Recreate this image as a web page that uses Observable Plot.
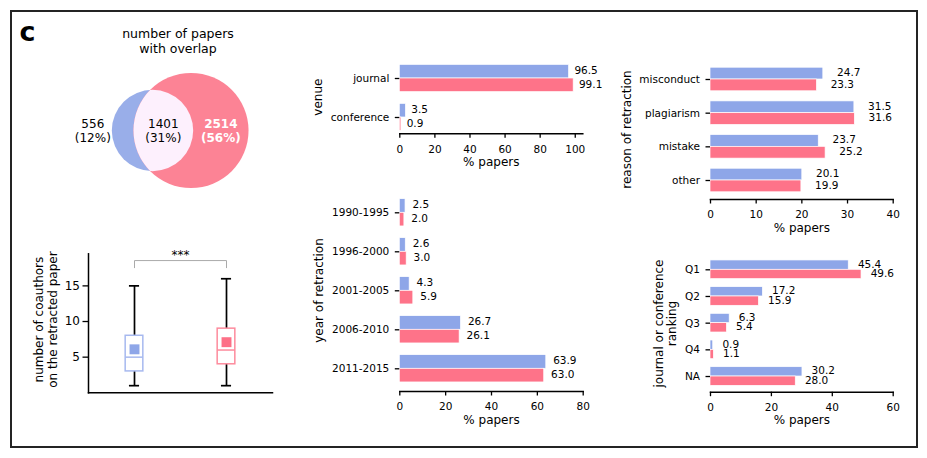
<!DOCTYPE html>
<html><head><meta charset="utf-8">
<script src="https://cdn.jsdelivr.net/npm/d3@7"></script>
<script src="https://cdn.jsdelivr.net/npm/@observablehq/plot@0.6"></script>
<style>
body{margin:0;background:#fff;font-family:"DejaVu Sans",sans-serif;}
#fig{position:relative;width:927px;height:458px;overflow:hidden;background:#fff;}
#fig svg{position:absolute;left:0;top:0;}
.lab{position:absolute;color:#000;font-family:"DejaVu Sans",sans-serif;white-space:pre;}
</style></head><body><div id="fig"></div>
<script>
// ---------------- data ----------------
const panelLetter = "c";
const vennTitle = "number of papers\nwith overlap";
const vennOnlyBlue = 556;
const vennBoth = 1401;
const vennOnlyRed = 2514;

const boxGroups = ["group 1", "group 2"];
const boxWhiskerLow = [1, 1];
const boxQ1 = [3, 4];
const boxMedian = [5, 6];
const boxQ3 = [8, 9];
const boxWhiskerHigh = [15, 16];
const boxMean = [6.1, 7.1];
const boxTicks = [5, 10, 15];
const boxYLabel = "number of coauthors\non the retracted paper";
const sigLabel = "***";

const venueCats = ["journal", "conference"];
const venueBlue = [96.5, 3.5];
const venueRed = [99.1, 0.9];
const venueTicks = [0, 20, 40, 60, 80, 100];

const yearCats = ["1990-1995", "1996-2000", "2001-2005", "2006-2010", "2011-2015"];
const yearBlue = [2.5, 2.6, 4.3, 26.7, 63.9];
const yearRed = [2.0, 3.0, 5.9, 26.1, 63.0];
const yearTicks = [0, 20, 40, 60, 80];

const reasonCats = ["misconduct", "plagiarism", "mistake", "other"];
const reasonBlue = [24.7, 31.5, 23.7, 20.1];
const reasonRed = [23.3, 31.6, 25.2, 19.9];
const reasonTicks = [0, 10, 20, 30, 40];

const rankCats = ["Q1", "Q2", "Q3", "Q4", "NA"];
const rankBlue = [45.4, 17.2, 6.3, 0.9, 30.2];
const rankRed = [49.6, 15.9, 5.4, 1.1, 28.0];
const rankTicks = [0, 20, 40, 60];

const xLabel = "% papers";

// ---------------- styles ----------------
const BLUE = "#8ea6e8", RED = "#fe7389";
const W = 927, H = 458;
const fig = document.getElementById("fig");
const baseStyle = "position:absolute;left:0;top:0;background:transparent;overflow:visible;font-family:'DejaVu Sans',sans-serif;font-size:10.5px;color:#000;";

function addLabel(text, css) {
  const d = document.createElement("div");
  d.className = "lab";
  d.textContent = text;
  d.style.cssText += css;
  fig.appendChild(d);
}

// outer frame
const fr = document.createElement("div");
fr.style.cssText = "position:absolute;left:10px;top:10px;width:908px;height:437.7px;border:2.6px solid #242424;box-sizing:border-box;";
fig.appendChild(fr);

addLabel(panelLetter, "left:19.6px;top:18px;font-size:27px;line-height:27px;font-weight:bold;");
addLabel(vennTitle, "left:78px;width:200px;top:26px;font-size:12.5px;line-height:15px;text-align:center;");

// ---------------- Venn ----------------
{
  const total = vennOnlyBlue + vennBoth + vennOnlyRed;
  const rB = Math.sqrt((vennOnlyBlue + vennBoth) / Math.PI);
  const rR = Math.sqrt((vennOnlyRed + vennBoth) / Math.PI);
  const lens = (d) => {
    const a = rB * rB * Math.acos((d * d + rB * rB - rR * rR) / (2 * d * rB));
    const b = rR * rR * Math.acos((d * d + rR * rR - rB * rB) / (2 * d * rR));
    const c = 0.5 * Math.sqrt((-d + rB + rR) * (d + rB - rR) * (d - rB + rR) * (d + rB + rR));
    return a + b - c;
  };
  let lo = rR - rB + 1e-6, hi = rR + rB - 1e-6;
  for (let k = 0; k < 80; k++) { const m = (lo + hi) / 2; if (lens(m) > vennBoth) lo = m; else hi = m; }
  const dist = (lo + hi) / 2;
  const circles = [{x: 0, y: 0, r: rB}, {x: dist, y: 0, r: rR}];
  const pct = (v) => Math.round(v / total * 100);
  const lblBlue = [{x: -rB, text: `${vennOnlyBlue}\n(${pct(vennOnlyBlue)}%)`}];
  const lblBoth = [{x: ((dist - rR) + rB) / 2, text: `${vennBoth}\n(${pct(vennBoth)}%)`}];
  const lblRed = [{x: (rB + dist + rR) / 2, text: `${vennOnlyRed}\n(${pct(vennOnlyRed)}%)`}];
  const k = 1.63;
  const svg = Plot.plot({
    width: W, height: H, margin: 0,
    style: baseStyle,
    x: {type: "linear", domain: [0, 1], range: [152, 152 + k], axis: null},
    y: {type: "linear", domain: [0, 1], range: [130, 130 + k], axis: null},
    r: {type: "linear", domain: [0, 1], range: [0, k]},
    marks: [
      Plot.dot([circles[0]], {x: "x", y: "y", r: "r", fill: "#99aee9", stroke: null}),
      Plot.dot([circles[1]], {x: "x", y: "y", r: "r", fill: "#fc8395", stroke: null}),
      Plot.text(lblBlue, {x: "x", y: () => 0, text: "text", dx: -19, fill: "black", fontSize: 12, lineHeight: 1.15}),
      Plot.text(lblBoth, {x: "x", y: () => 0, text: "text", fill: "black", fontSize: 12, lineHeight: 1.15}),
      Plot.text(lblRed, {x: "x", y: () => 0, text: "text", fill: "white", fontWeight: "bold", fontSize: 12, lineHeight: 1.15})
    ]
  });
  fig.appendChild(svg);
  // intersection (lens) = blue circle clipped by red circle
  const cs = svg.querySelectorAll("circle");
  if (cs.length >= 2) {
    const blueC = cs[0], redC = cs[1];
    const ns = "http://www.w3.org/2000/svg";
    const defs = document.createElementNS(ns, "defs");
    const cp = document.createElementNS(ns, "clipPath");
    cp.setAttribute("id", "lensclip");
    const rc = redC.cloneNode(true);
    const g = redC.parentNode;
    if (g.getAttribute("transform")) rc.setAttribute("transform", g.getAttribute("transform"));
    cp.appendChild(rc);
    defs.appendChild(cp);
    svg.insertBefore(defs, svg.firstChild);
    const bc = blueC.cloneNode(true);
    bc.setAttribute("fill", "#fdf0fd");
    const bg = blueC.parentNode;
    const holder = document.createElementNS(ns, "g");
    holder.setAttribute("clip-path", "url(#lensclip)");
    const inner = document.createElementNS(ns, "g");
    if (bg.getAttribute("transform")) inner.setAttribute("transform", bg.getAttribute("transform"));
    inner.appendChild(bc);
    holder.appendChild(inner);
    g.parentNode.insertBefore(holder, g.nextSibling);
  }
}

// ---------------- Box plot ----------------
{
  const boxColors = [BLUE, "#fd7087"];
  const edgeColors = ["#a7b9ef", "#fd8b9d"];
  const rows = boxGroups.map((g, i) => ({g, i, lo: boxWhiskerLow[i], q1: boxQ1[i], med: boxMedian[i], q3: boxQ3[i], hi: boxWhiskerHigh[i], mean: boxMean[i], c: boxColors[i], e: edgeColors[i]}));
  const hb = 0.096, hc = 0.055;
  const top = d3.max(boxWhiskerHigh) + 2.55;
  const mid = d3.mean(rows, d => d.i);
  const bracket = [{x: 0, y: top - 1}, {x: 0, y: top}, {x: 1, y: top}, {x: 1, y: top - 1}];
  const svg = Plot.plot({
    width: W, height: H,
    marginLeft: 88, marginRight: W - 272, marginTop: 253.3, marginBottom: H - 392.3,
    style: baseStyle,
    x: {type: "linear", domain: [-0.5, 1.5], axis: null},
    y: {domain: [0, 19.5], axis: null},
    marks: [
      Plot.ruleX(rows, {x: "i", y1: "lo", y2: "hi", stroke: "black", strokeWidth: 1.7}),
      Plot.ruleY(rows, {y: "lo", x1: d => d.i - hc, x2: d => d.i + hc, stroke: "black", strokeWidth: 1.7}),
      Plot.ruleY(rows, {y: "hi", x1: d => d.i - hc, x2: d => d.i + hc, stroke: "black", strokeWidth: 1.7}),
      Plot.rect(rows, {x1: d => d.i - hb, x2: d => d.i + hb, y1: "q1", y2: "q3", fill: "white", stroke: "e", strokeWidth: 1.5}),
      Plot.ruleY(rows, {y: "med", x1: d => d.i - hb, x2: d => d.i + hb, stroke: "e", strokeWidth: 1.5}),
      Plot.dot(rows, {x: "i", y: "mean", symbol: "square", r: 5.6, fill: "c", stroke: null}),
      Plot.line(bracket, {x: "x", y: "y", stroke: "#aaaaaa", strokeWidth: 1}),
      Plot.text([sigLabel], {x: () => mid, y: () => top, text: d => d, fontSize: 12, dy: -2, lineAnchor: "bottom"}),
      Plot.axisY({ticks: boxTicks, tickSize: 5.5, tickPadding: 3, fontSize: 12, label: null, strokeWidth: 1.3}),
      Plot.frame({anchor: "left", stroke: "black", strokeWidth: 1.5}),
      Plot.frame({anchor: "bottom", stroke: "black", strokeWidth: 1.5}),
      Plot.text([boxYLabel], {frameAnchor: "left", text: d => d, rotate: -90, textAnchor: "middle", dx: -43, dy: -3.7, fontSize: 12, lineHeight: 1.17})
    ]
  });
  fig.appendChild(svg);
}

// ---------------- bar panels ----------------
function barPanel({cats, blue, red, ticks, xmax, left, right, c0, step, axisY, top, ylabel, ylabelDx}) {
  const p = 0.3;
  const n = cats.length;
  const r0 = c0 - step * (1 + p) / 2;
  const r1 = r0 + step * (n + p);
  const bw = step * (1 - p);
  const rowsB = cats.map((c, i) => ({cat: c, v: blue[i]}));
  const rowsR = cats.map((c, i) => ({cat: c, v: red[i]}));
  const off = 3;
  return Plot.plot({
    width: W, height: H,
    marginLeft: left, marginRight: W - right, marginTop: top, marginBottom: H - axisY,
    style: baseStyle,
    x: {domain: [0, xmax]},
    y: {type: "band", domain: cats, range: [r0, r1], padding: p, round: false},
    marks: [
      Plot.barX(rowsB, {x1: () => 0, x2: "v", y: "cat", fill: BLUE, insetBottom: bw / 2, stroke: "white", strokeWidth: 0.7}),
      Plot.barX(rowsR, {x1: () => 0, x2: "v", y: "cat", fill: RED, insetTop: bw / 2, stroke: "white", strokeWidth: 0.7}),
      Plot.text(rowsB, {x: d => d.v + off, y: "cat", text: d => d.v.toFixed(1), textAnchor: "start", dy: -bw / 4 - 1, fontSize: 10.5}),
      Plot.text(rowsR, {x: d => d.v + off, y: "cat", text: d => d.v.toFixed(1), textAnchor: "start", dy: bw / 4 - 1, fontSize: 10.5}),
      Plot.axisY({tickSize: 4.5, tickPadding: 6, fontSize: 10.5, label: null, strokeWidth: 1.3}),
      Plot.axisX({ticks, tickSize: 4.5, tickPadding: 7, fontSize: 10.5, label: null, tickFormat: d => String(d), strokeWidth: 1.3}),
      Plot.frame({anchor: "bottom", stroke: "black", strokeWidth: 1.5}),
      Plot.text([xLabel], {frameAnchor: "bottom", text: d => d, dy: 32, fontSize: 12}),
      Plot.text([ylabel], {frameAnchor: "left", text: d => d, rotate: -90, textAnchor: "middle", dx: ylabelDx, fontSize: 12, lineHeight: 1.1})
    ]
  });
}

fig.appendChild(barPanel({cats: venueCats, blue: venueBlue, red: venueRed, ticks: venueTicks, xmax: 104.3,
  left: 399.3, right: 582.3, c0: 78, step: 39, axisY: 133.3, top: 60, ylabel: "venue", ylabelDx: -82}));
fig.appendChild(barPanel({cats: yearCats, blue: yearBlue, red: yearRed, ticks: yearTicks, xmax: 80,
  left: 399.3, right: 582.7, c0: 212.3, step: 39, axisY: 391, top: 189, ylabel: "year of retraction", ylabelDx: -81}));
fig.appendChild(barPanel({cats: reasonCats, blue: reasonBlue, red: reasonRed, ticks: reasonTicks, xmax: 40,
  left: 710, right: 892.7, c0: 79, step: 33.67, axisY: 199, top: 59, ylabel: "reason of retraction", ylabelDx: -84}));
fig.appendChild(barPanel({cats: rankCats, blue: rankBlue, red: rankRed, ticks: rankTicks, xmax: 60,
  left: 710, right: 892.7, c0: 269.3, step: 26.68, axisY: 391.7, top: 254.3, ylabel: "journal or conference\nranking", ylabelDx: -45}));
</script></body></html>
